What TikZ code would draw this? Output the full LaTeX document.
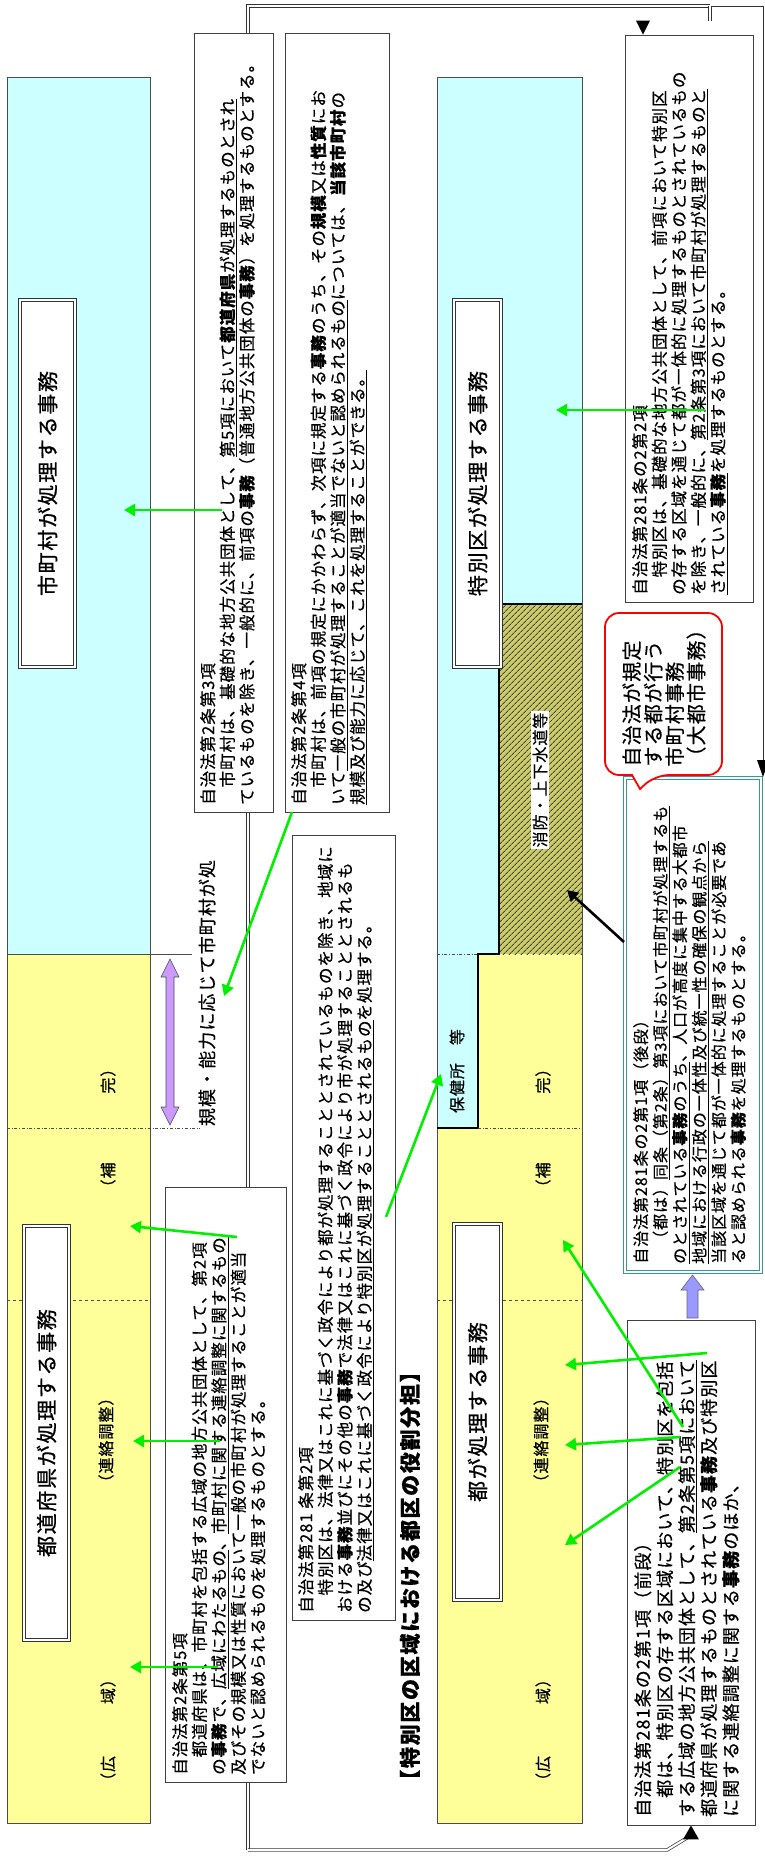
\documentclass[tikz,border=0pt]{standalone}
\usepackage{fontspec}
\setmainfont{Noto Sans CJK JP}
\newfontfamily\jp[LetterSpace=6,FakeBold=0.5]{Noto Sans CJK JP}
\newfontfamily\jpw[LetterSpace=8,FakeBold=0.8]{Noto Sans CJK JP}
\usetikzlibrary{arrows.meta,patterns.meta}
\definecolor{cyanbg}{HTML}{CCFFFF}
\definecolor{yellowbg}{HTML}{FFFF99}
\definecolor{grn}{HTML}{00F000}
\definecolor{lav}{HTML}{9999FF}
\definecolor{purp}{HTML}{CC99FF}
\definecolor{tealb}{HTML}{339999}
\definecolor{hatchbg}{HTML}{CCCC66}
\begin{document}
\begin{tikzpicture}[x=1pt,y=-1pt,
  lbl/.style={rotate=90, inner sep=0pt},
  bx/.style={draw=black!75, line width=0.9pt, fill=white, rotate=90, inner sep=0pt},
  dbx/.style={draw=black!80, line width=0.9pt, double, double distance=2pt, fill=white, rotate=90, inner sep=0pt},
  txt/.style={rotate=90, anchor=north west, align=left, inner sep=0pt, font=\jp\fontsize{16.5}{19.5}\selectfont},
  garr/.style={draw=grn, line width=2.6pt, -{Triangle[length=11pt,width=12pt]}},
  dline/.style={draw=black!80, line width=0.7pt, double, double distance=2pt},
  colb/.style={draw=black!70, line width=0.8pt},
]
\useasboundingbox (0,0) rectangle (765,1858);
\fill[white] (0,0) rectangle (765,1858);

% ---------------- double-line connectors (behind boxes)
\coordinate (tl) at (248,6);
\coordinate (tr) at (763,6);
\coordinate (bl) at (248,1850);
\coordinate (bm) at (667,1850);
\draw[dline] (bl) -- (tl) -- (710,6);
\draw[black!80, line width=0.8pt] (710,6) -- (tr) -- (763,760);

% ---------------- left column
\fill[cyanbg] (7,77) rectangle (150,954);
\fill[yellowbg] (7,954) rectangle (150,1823);
\draw[colb] (7,77) rectangle (150,1823);
\draw[colb] (7,954) -- (192,954);
\draw[black!70, dash dot] (7,1128) -- (200,1128);
\draw[black!70, dashed] (7,1300) -- (150,1300);
\node[dbx, minimum width=367pt, minimum height=55pt, font=\jpw\fontsize{21}{21}\selectfont] (shichoson) at (47.5,483.5) {市町村が処理する事務};
\node[dbx, minimum width=414pt, minimum height=45pt, font=\jpw\fontsize{21}{21}\selectfont] (todofuken) at (46.5,1433) {都道府県が処理する事務};
\node[lbl, font=\jp\fontsize{16}{16}\selectfont] (lhokan) at (108,1128) {（補　　　　完）};
\node[lbl, font=\jp\fontsize{16}{16}\selectfont] (lrenraku) at (106,1440) {（連絡調整）};
\node[lbl, font=\jp\fontsize{16}{16}\selectfont] (lkoiki) at (108,1730) {（広　　　域）};

% purple double arrow
\filldraw[fill=purp, draw=black!70, line width=0.6pt] (170,959) -- (179,977) -- (174,977) -- (174,1107) -- (179,1107) -- (170,1125) -- (161,1107) -- (166,1107) -- (166,977) -- (161,977) -- cycle;
\node[lbl, font=\jp\fontsize{18}{18}\selectfont] (kibo) at (207,993) {規模・能力に応じて市町村が処};

% ---------------- middle column
\fill[cyanbg] (437,77) rectangle (582,1128);
\fill[yellowbg] (478,954) -- (582,954) -- (582,1823) -- (437,1823) -- (437,1128) -- (478,1128) -- cycle;
\fill[hatchbg] (499,604) rectangle (582,954);
\fill[pattern={Lines[angle=45,distance=4pt,line width=0.9pt]}, pattern color=black!75] (499,604) rectangle (582,954);
\draw[colb] (437,77) rectangle (582,1823);
\draw[black, line width=1.2pt] (582,604) -- (499,604) -- (499,954) -- (478,954) -- (478,1128) -- (437,1128);
\draw[black!70, dash dot] (437,954) -- (478,954);
\draw[black!70, dash dot] (478,1128) -- (582,1128);
\draw[black!70, dashed] (437,1300) -- (582,1300);
\node[dbx, minimum width=367pt, minimum height=47pt, font=\jpw\fontsize{21}{21}\selectfont] (tokubetsuku) at (477.5,483.5) {特別区が処理する事務};
\node[dbx, minimum width=376pt, minimum height=47pt, font=\jpw\fontsize{21}{21}\selectfont] (to) at (477.5,1412) {都が処理する事務};
\node[lbl, font=\jp\fontsize{16}{16}\selectfont] (mhokan) at (543,1128) {（補　　　　完）};
\node[lbl, font=\jp\fontsize{16}{16}\selectfont] (mrenraku) at (541,1440) {（連絡調整）};
\node[lbl, font=\jp\fontsize{16}{16}\selectfont] (mkoiki) at (543,1730) {（広　　　域）};
\node[lbl, font=\jp\fontsize{16}{16}\selectfont] (hokenjo) at (457,1071) {保健所　等};
\node[lbl, fill=white, inner sep=2pt, font=\jp\fontsize{16}{16}\selectfont] (shobo) at (540,780) {消防・上下水道等};

% title
\node[lbl, font=\jpw\fontsize{21}{21}\selectfont\bfseries] (title) at (410,1576) {【特別区の区域における都区の役割分担】};

% ---------------- text boxes
\node[bx, minimum width=779pt, minimum height=79pt] (A) at (233.5,422.5) {};
\node[txt] at (200,805) {自治法第2条第3項\\
　市町村は、基礎的な地方公共団体として、\underline{第5項において\textbf{都道府県}が処理するものとされ}\\
ているものを除き、一般的に、前項の\textbf{事務}（普通地方公共団体の\textbf{事務}）を処理するものとする。};

\node[bx, minimum width=779pt, minimum height=104pt] (B) at (337,422.5) {};
\node[txt] at (291,805) {自治法第2条第4項\\
　市町村は、前項の規定にかかわらず、次項に規定する\textbf{事務}のうち、その\textbf{規模}又は\textbf{性質}にお\\
いて\underline{一般の市町村が処理することが適当でないと認められるもの}については、\textbf{当該市町村}の\\
\underline{規模及び能力に応じて、これを処理することができる。}};

\node[bx, minimum width=595pt, minimum height=121pt] (C) at (225.5,1484.5) {};
\node[txt] at (172,1775) {自治法第2条第5項\\
　都道府県は、市町村を包括する広域の地方公共団体として、第2項\\
の\textbf{事務}で、\underline{広域にわたるもの}、\underline{市町村に関する連絡調整に関するもの}\\
及びその規模又は性質において一般の市町村が処理することが適当\\
でないと認められるものを処理するものとする。};

\node[bx, minimum width=785pt, minimum height=103pt] (D) at (343.5,1227.5) {};
\node[txt] at (298,1613) {自治法第281 条第2項\\
　特別区は、法律又はこれに基づく政令により都が処理することとされているものを除き、地域に\\
おける\textbf{事務}並びにその他の\textbf{事務}で法律又はこれに基づく政令により市が処理することとされるも\\
の及び\underline{法律又はこれに基づく政令により特別区が処理することとされるもの}を処理する。};

\node[bx, minimum width=567pt, minimum height=128pt] (E) at (689,318.5) {};
\node[txt] at (632,595) {自治法第281条の2第2項\\
　特別区は、基礎的な地方公共団体として、前項において特別区\\
の存する区域を通じて都が一体的に処理するものとされているもの\\
を除き、一般的に、\underline{第2条第3項において市町村が処理するものと}\\
\underline{されている\textbf{事務}}を処理するものとする。};

\node[rotate=90, draw=tealb, line width=0.9pt, double, double distance=1.8pt, fill=white, inner sep=0pt, minimum width=494pt, minimum height=136pt] (F) at (693,1025) {};
\node[txt, font=\jp\fontsize{16}{19.5}\selectfont] at (633,1264) {自治法第281条の2第1項（後段）\\
　（都は）\underline{同条（第2条）第3項において市町村が処理するも}\\
\underline{のとされている\textbf{事務}のうち}、人口が高度に集中する大都市\\
\underline{地域における行政の一体性及び統一性の確保の観点から}\\
当該区域を通じて都が一体的に処理することが必要であ\\
ると認められる\textbf{事務}を処理するものとする。};

\node[bx, minimum width=505pt, minimum height=128pt] (G) at (691,1572.5) {};
\node[txt, font=\jp\fontsize{18}{22}\selectfont] at (634,1817) {自治法第281条の2第1項（前段）\\
　都は、特別区の存する区域において、特別区を包括\\
する広域の地方公共団体として、\underline{第2条第5項において}\\
都道府県が処理するものとされている\textbf{事務}及び特別区\\
に関する連絡調整に関する\textbf{事務}のほか、};

% speech bubble
\filldraw[draw=red, line width=1.8pt, fill=white] (605,690) [rounded corners=14pt] -- (605,613) -- (722,613) -- (722,775) -- (655,775) [sharp corners] -- (640,789) -- (632,775) [rounded corners=14pt] -- (605,775) -- cycle;
\node[rotate=90, align=left, inner sep=0pt, font=\jp\fontsize{20}{21.5}\selectfont] (bubble) at (664,693) {自治法が規定\\する都が行う\\市町村事務\\（大都市事務）};

% ---------------- connector arrowheads for double lines
\draw[dline] (bl) -- (bm) -- ([yshift=-10pt]G.west);
\fill[black] (G.west) -- ++(-8,14) -- ++(16,0) -- cycle;
\fill[black] (E.east) ++(-46,0) coordinate (et) -- ++(-7,-14) -- ++(14,0) -- cycle;
\draw[dline] (710,6) -- (710,21);
\fill[black] (763,777) -- (757,760) -- (769,760) -- cycle;

% lavender up arrow
\filldraw[fill=lav, draw=black!60, line width=0.6pt] (692.5,1275) -- (704,1290) -- (698,1290) -- (698,1318) -- (687,1318) -- (687,1290) -- (681,1290) -- cycle;

% black arrow
\coordinate (fk) at (624,942);
\coordinate (hk) at (567,890);
\draw[black, line width=2.6pt, -{Triangle[length=11pt,width=12pt]}] (fk) -- (hk);

% ---------------- green arrows
\coordinate (a0) at (222,510); \coordinate (a1) at (124,510);
\draw[garr] (a0) -- (a1);
\coordinate (b0) at (292,812); \coordinate (b1) at (224,996);
\draw[garr] (b0) -- (b1);
\coordinate (c10) at (237,1237); \coordinate (c11) at (130,1226);
\draw[garr] (c10) -- (c11);
\coordinate (c20) at (220,1441); \coordinate (c21) at (133,1441);
\draw[garr] (c20) -- (c21);
\coordinate (c30) at (218,1667); \coordinate (c31) at (130,1667);
\draw[garr] (c30) -- (c31);
\coordinate (d0) at (386,1217); \coordinate (d1) at (441,1074);
\draw[garr] (d0) -- (d1);
\coordinate (e0) at (705,410); \coordinate (e1) at (556,410);
\draw[garr] (e0) -- (e1);
\coordinate (g10) at (707,1353); \coordinate (g11) at (565,1365);
\draw[garr] (g10) -- (g11);
\coordinate (g20) at (683,1427); \coordinate (g21) at (563,1240);
\draw[garr] (g20) -- (g21);
\coordinate (g30) at (680,1437); \coordinate (g31) at (565,1445);
\draw[garr] (g30) -- (g31);
\coordinate (g40) at (680,1467); \coordinate (g41) at (565,1545);
\draw[garr] (g40) -- (g41);
\end{tikzpicture}
\end{document}
